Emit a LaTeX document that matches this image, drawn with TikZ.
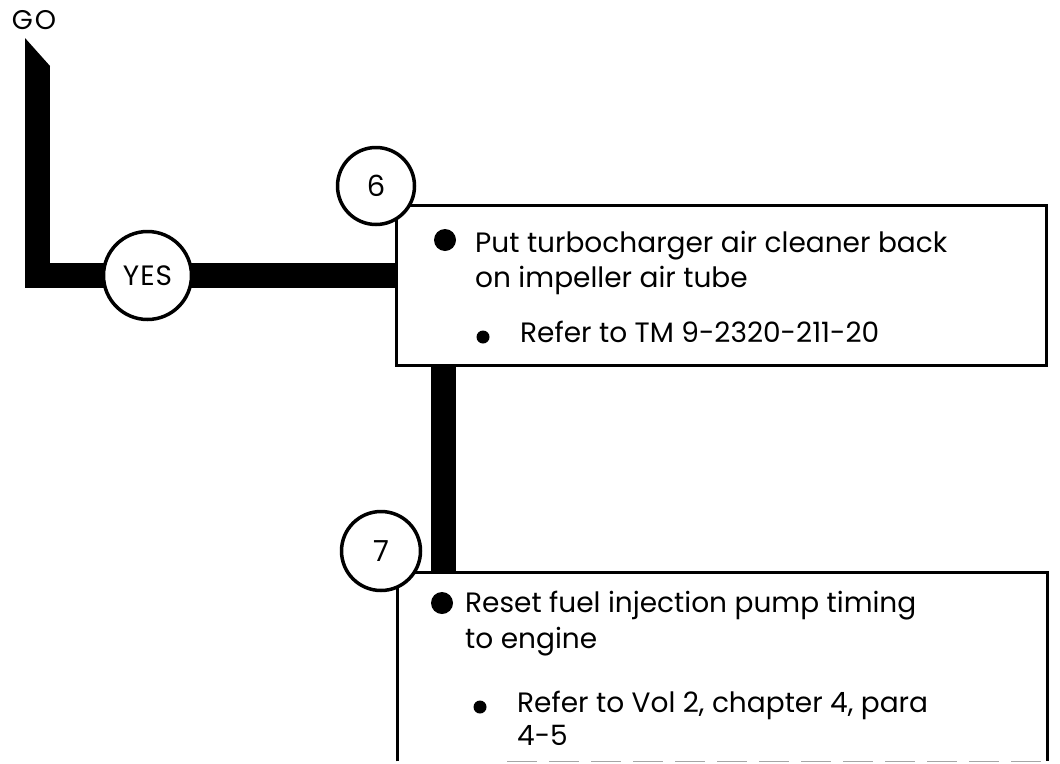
\documentclass[tikz,border=0pt]{standalone}
\usepackage{fontspec}
\setmainfont{Poppins}
\usetikzlibrary{backgrounds,calc}
\begin{document}
\begin{tikzpicture}[x=1pt,y=-1pt,
  bar/.style={line width=25pt, line join=miter, line cap=butt},
  frame/.style={draw, line width=3pt},
  ring/.style={circle, draw, line width=3.5pt, fill=white, inner sep=0pt},
  txt/.style={anchor=base west, inner sep=0pt, font=\fontsize{28}{34}\selectfont},
  bigdot/.style={circle, fill=black, minimum size=22pt, inner sep=0pt},
  smalldot/.style={circle, fill=black, minimum size=13pt, inner sep=0pt},
  numfont/.style={font=\fontsize{29}{34}\selectfont}]
\useasboundingbox (0,0) rectangle (1060,763);

% nodes
\node[inner sep=0pt, font=\fontsize{27}{32}\selectfont] (go) at (34,20) {G\kern2pt O};
\coordinate (gotop) at (37.5,66);
\node[ring, minimum size=88pt, font=\fontsize{28}{32}\selectfont] (yes) at (147.5,275.5) {Y\kern1pt E\kern1pt S};

\node[frame, minimum width=650pt, minimum height=160pt, anchor=north west, inner sep=0pt] (box6) at (395,204) {};
\node[ring, minimum size=77pt, numfont] (n6) at (376,186) {6};

\node[minimum width=650pt, minimum height=189pt, anchor=north west, inner sep=0pt] (box7) at (397,572) {};
\draw[line width=3pt] (box7.south west) -- (box7.north west) -- (box7.north east) -- (box7.south east);
\draw[black!35, line width=1.5pt, dash pattern=on 30pt off 12pt] ($(box7.south west)+(110,0)$) -- (box7.south east);
\node[ring, minimum size=79pt, numfont] (n7) at (381,551) {7};

% connectors (behind)
\begin{scope}[on background layer]
  \fill[white] (0,0) rectangle (1060,763);
  \fill ($(gotop)+(-12.5,-28)$) -- ($(gotop)+(12.5,0)$) -- ($(gotop)+(-12.5,0)$) -- cycle;
  \draw[bar] (gotop) |- (yes.center) -- (box6.west |- yes.center);
  \draw[bar] ($(box6.south west)+(48.5,0)$) -- ($(box7.north west)+(46.5,0)$);
\end{scope}

% box 6 content
\node[bigdot] (d6a) at (445,240) {};
\node[txt] (t6a) at (475,252) {Put turbocharger air cleaner back};
\node[txt] (t6b) at (475,287) {on impeller air tube};
\node[smalldot] (d6b) at (483,337) {};
\node[txt] (t6c) at (520,342) {Refer to TM 9-2320-211-20};

% box 7 content
\node[bigdot] (d7a) at (442,603) {};
\node[txt] (t7a) at (465,612) {Reset fuel injection pump timing};
\node[txt] (t7b) at (465,648) {to engine};
\node[smalldot] (d7b) at (480,707) {};
\node[txt] (t7c) at (517,712) {Refer to Vol 2, chapter 4, para};
\node[txt] (t7d) at (517,745) {4-5};
\end{tikzpicture}
\end{document}
